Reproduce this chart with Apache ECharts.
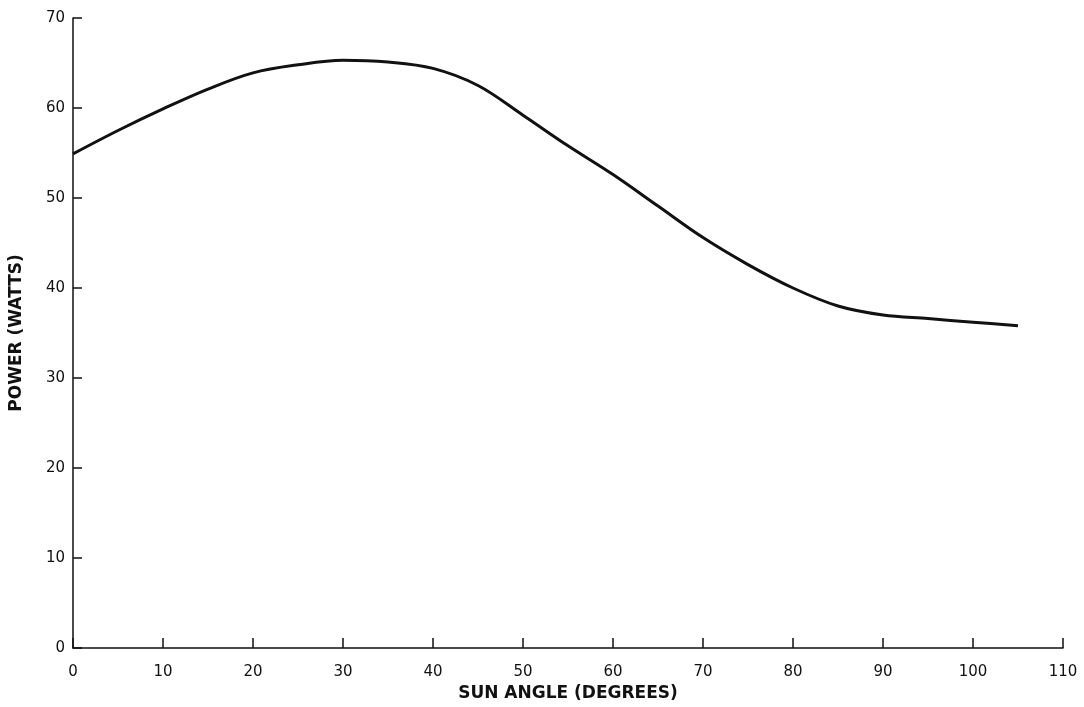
<!DOCTYPE html>
<html>
<head>
<meta charset="utf-8">
<script src="https://cdn.jsdelivr.net/npm/echarts@6/dist/echarts.min.js"></script>
<style>
  html, body { margin: 0; padding: 0; background: #fff; }
  #chart { width: 1084px; height: 707px; }
</style>
</head>
<body>
<div id="chart"></div>
<script>
// Sun angle (degrees) and array power output (watts)
const sunAngle = [0, 5, 10, 15, 20, 25, 30, 35, 40, 45, 50, 55, 60, 65, 70, 75, 80, 85, 90, 95, 100, 105];
const powerWatts = [54.9, 57.5, 59.9, 62.1, 63.9, 64.8, 65.3, 65.1, 64.4, 62.5, 59.2, 55.8, 52.6, 49.1, 45.6, 42.6, 40.0, 38.0, 37.0, 36.6, 36.2, 35.8];
const xTicks = [0, 10, 20, 30, 40, 50, 60, 70, 80, 90, 100, 110];
const yTicks = [0, 10, 20, 30, 40, 50, 60, 70];

const chart = echarts.init(document.getElementById('chart'));
const labelFont = { color: '#111', fontFamily: 'DejaVu Sans', fontSize: 15 };
const nameFont = { color: '#111', fontFamily: 'DejaVu Sans', fontWeight: 'bold', fontSize: 17 };

chart.setOption({
  backgroundColor: '#fff',
  animation: false,
  grid: { left: 73, right: 21, top: 18, bottom: 55, containLabel: false },
  xAxis: {
    type: 'value',
    min: xTicks[0], max: xTicks[xTicks.length - 1], interval: 10,
    name: 'SUN ANGLE (DEGREES)',
    nameLocation: 'middle',
    nameGap: 37,
    nameTextStyle: nameFont,
    axisLine: { lineStyle: { color: '#111', width: 1.5 } },
    axisTick: { show: true, inside: true, length: 10, lineStyle: { color: '#111', width: 1.5 } },
    axisLabel: Object.assign({ margin: 17 }, labelFont),
    splitLine: { show: false }
  },
  yAxis: {
    type: 'value',
    min: yTicks[0], max: yTicks[yTicks.length - 1], interval: 10,
    name: 'POWER (WATTS)',
    nameLocation: 'middle',
    nameGap: 48,
    nameRotate: 90,
    nameTextStyle: nameFont,
    axisLine: { show: true, lineStyle: { color: '#111', width: 1.5 } },
    axisTick: { show: true, inside: true, length: 9, lineStyle: { color: '#111', width: 1.5 } },
    axisLabel: Object.assign({ margin: 8 }, labelFont),
    splitLine: { show: false }
  },
  series: [{
    type: 'line',
    data: sunAngle.map((a, i) => [a, powerWatts[i]]),
    smooth: 0.35,
    showSymbol: false,
    lineStyle: { color: '#111', width: 3 }
  }]
});
</script>
</body>
</html>
